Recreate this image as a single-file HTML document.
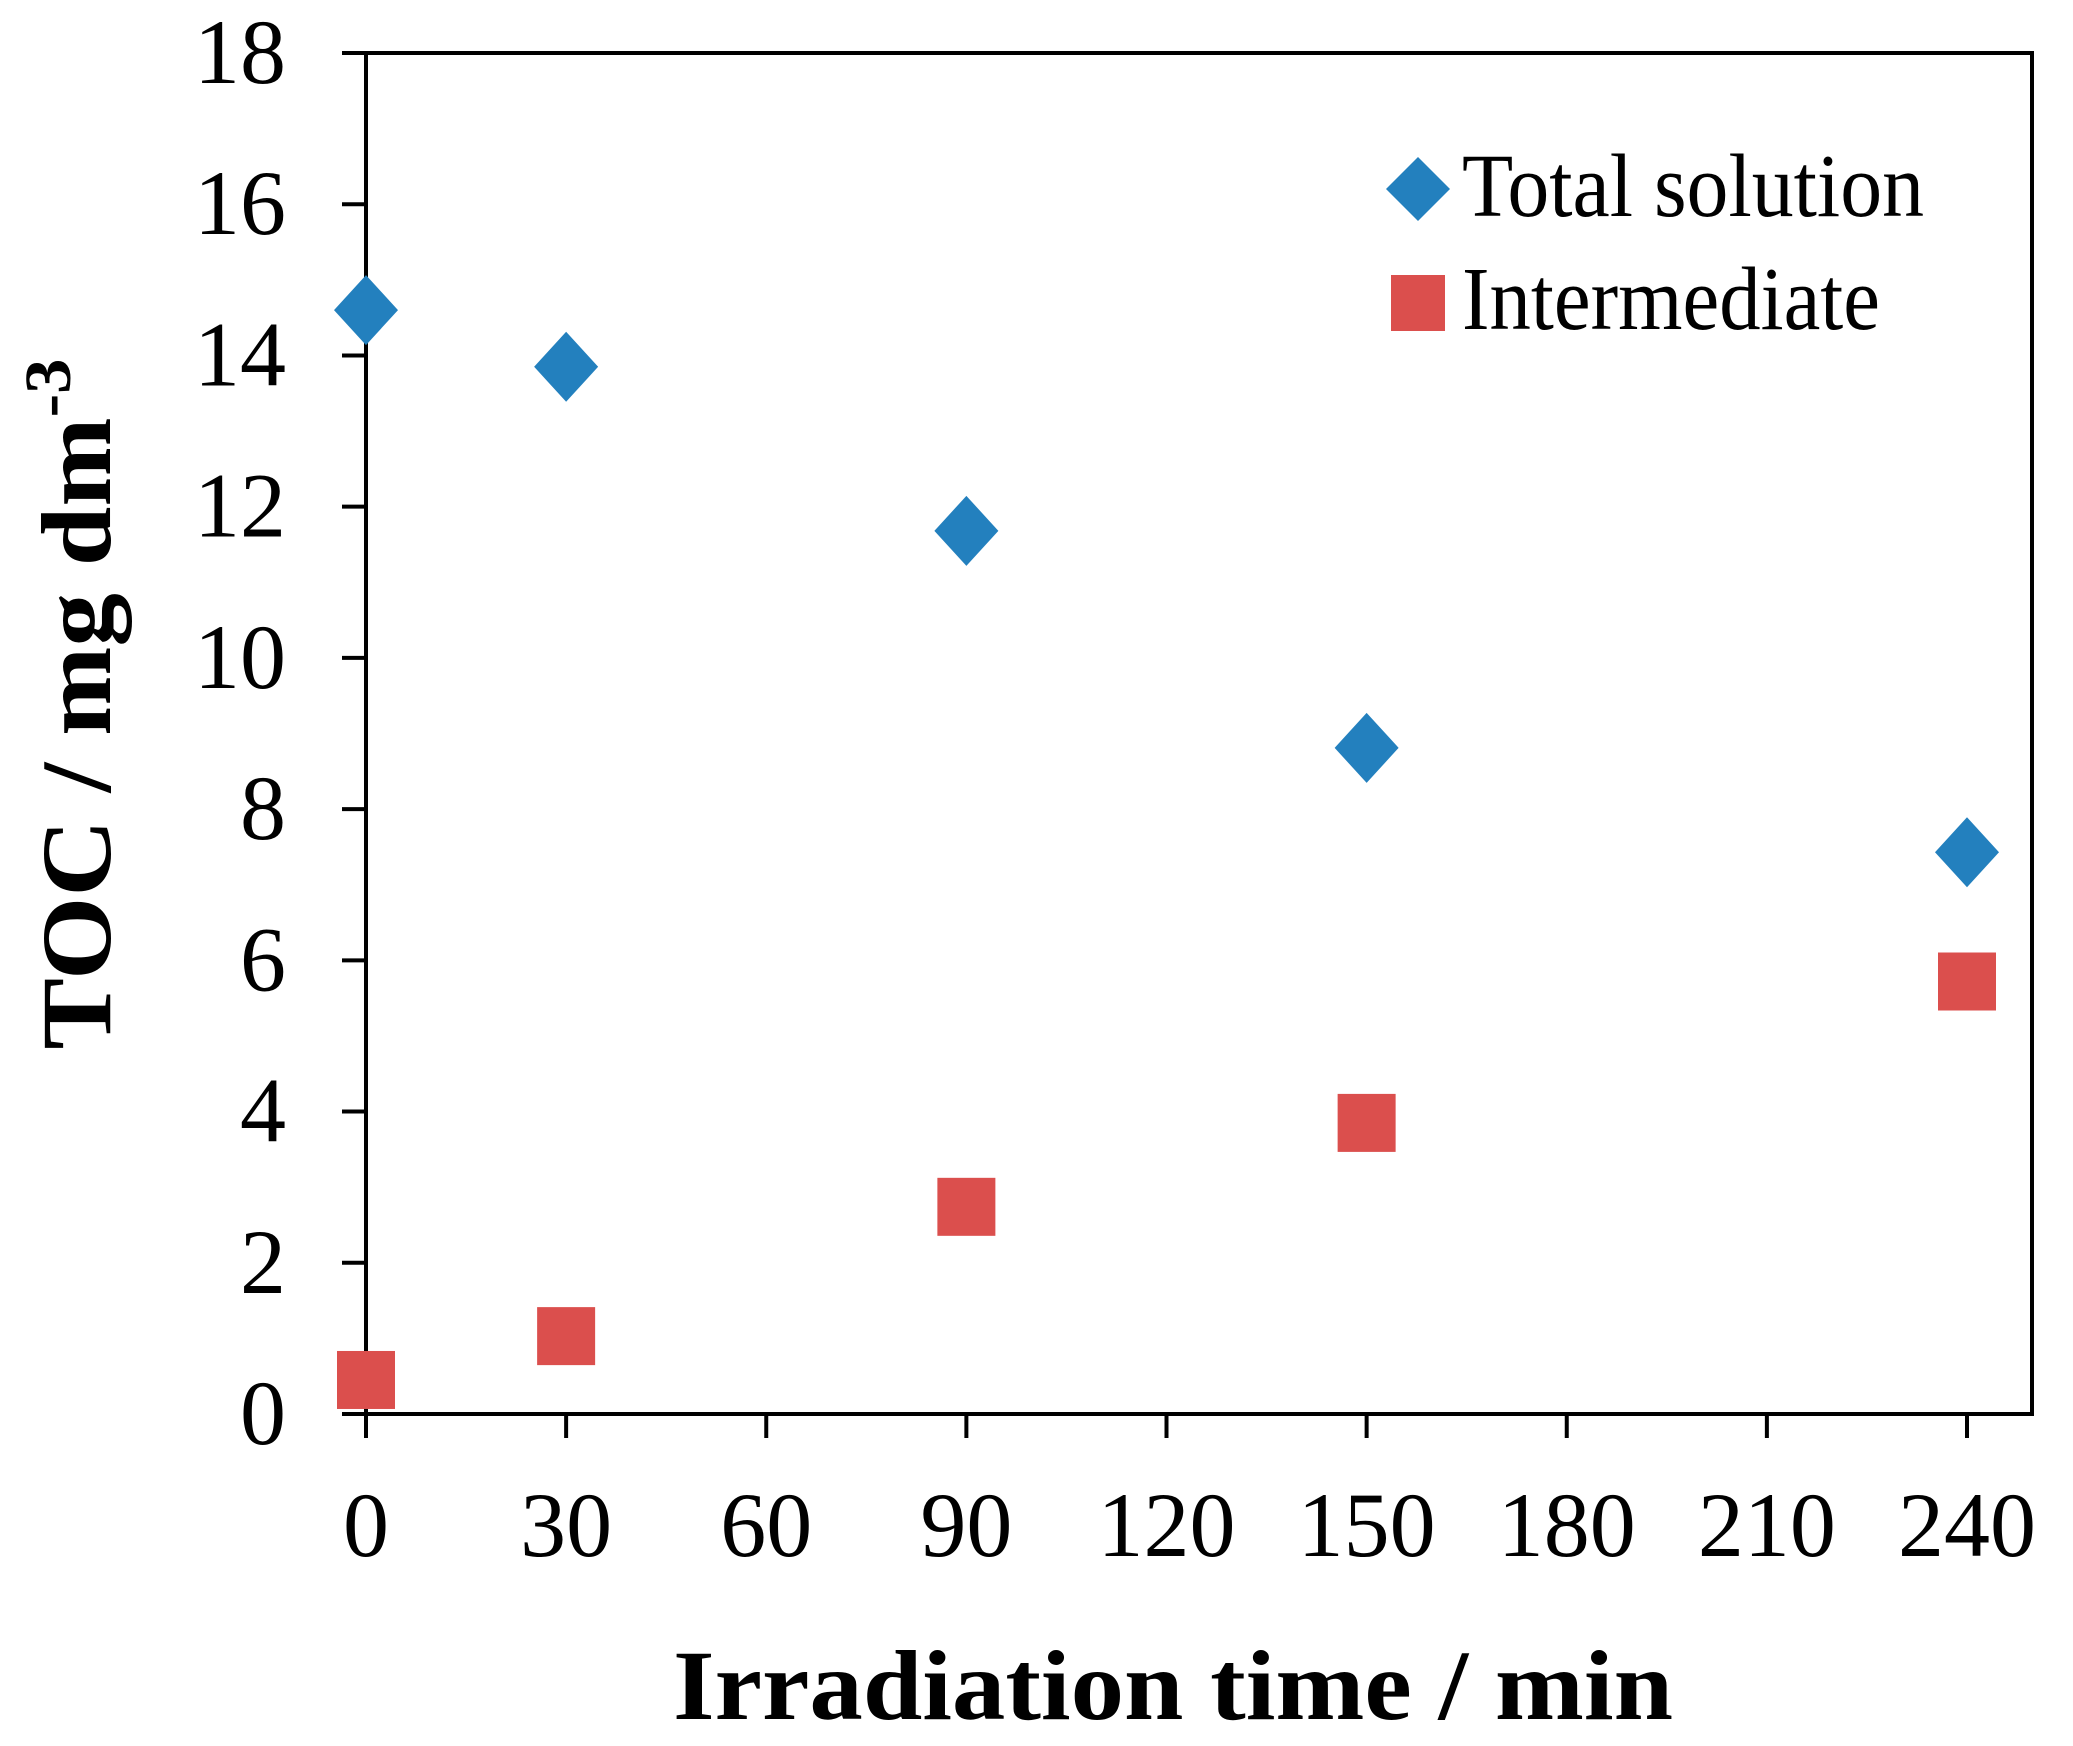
<!DOCTYPE html>
<html><head><meta charset="utf-8"><style>
html,body{margin:0;padding:0;background:#fff;}
svg{display:block;}
text{font-family:"Liberation Serif",serif;fill:#000;}
</style></head><body>
<svg id="chart" width="2073" height="1746" viewBox="0 0 2073 1746" xmlns="http://www.w3.org/2000/svg">
<g id="axes"></g>
<g id="marks"></g>
<g id="legend">
  <polygon points="1418,157 1450,189 1418,221 1386,189" fill="#2380be"/>
  <rect x="1391" y="275" width="54" height="56" fill="#db4f4d"/>
  <text x="1462" y="216" font-size="90" textLength="462" lengthAdjust="spacingAndGlyphs">Total solution</text>
  <text x="1462" y="329" font-size="90" textLength="418" lengthAdjust="spacingAndGlyphs">Intermediate</text>
</g>
<text x="1173" y="1719" text-anchor="middle" font-size="100" font-weight="bold" textLength="1000" lengthAdjust="spacingAndGlyphs">Irradiation time / min</text>
<text transform="translate(110,704) rotate(-90)" text-anchor="middle" font-size="100" font-weight="bold" textLength="691" lengthAdjust="spacingAndGlyphs">TOC / mg dm<tspan font-size="66" dy="-40">-3</tspan></text>
</svg>
<script>
const xCategories = [0, 30, 90, 150, 240];
const totalSolution = [14.6, 13.85, 11.68, 8.81, 7.43];
const intermediate = [0.45, 1.03, 2.74, 3.85, 5.72];
const xTicks = [0, 30, 60, 90, 120, 150, 180, 210, 240];
const yTicks = [0, 2, 4, 6, 8, 10, 12, 14, 16, 18];

const L = 366, R = 2032, T = 53, B = 1414;
const X0 = 366, X240 = 1967;
function sx(v){ return X0 + (X240 - X0) * v / 240; }
function sy(v){ return B - (B - T) * v / 18; }
const NS = "http://www.w3.org/2000/svg";
function mk(tag, attrs, parent){
  const e = document.createElementNS(NS, tag);
  for (const k in attrs) e.setAttribute(k, attrs[k]);
  parent.appendChild(e);
  return e;
}
const axes = document.getElementById('axes');
const frame = mk('rect', {x:L, y:T, width:R-L, height:B-T, fill:'none', stroke:'#000', 'stroke-width':4}, axes);


yTicks.forEach(v => {
  const ln = mk('line', {x1:342, x2:L, y1:sy(v), y2:sy(v), stroke:'#000', 'stroke-width':4}, axes);
  
  
  const t = mk('text', {x:286, y:sy(v)+30, 'text-anchor':'end', 'font-size':92}, axes);
  
  
  t.textContent = v;
});
xTicks.forEach(v => {
  const ln = mk('line', {x1:sx(v), x2:sx(v), y1:B, y2:1438, stroke:'#000', 'stroke-width':4}, axes);
  
  
  const t = mk('text', {x:sx(v), y:1556, 'text-anchor':'middle', 'font-size':92}, axes);
  
  
  t.textContent = v;
});
const marks = document.getElementById('marks');
xCategories.forEach((c, i) => {
  const x = sx(c), y = sy(totalSolution[i]);
  const d = mk('polygon', {points:`${x},${y-35} ${x+32},${y} ${x},${y+35} ${x-32},${y}`, fill:'#2380be'}, marks);
  
  
  const y2 = sy(intermediate[i]);
  const s = mk('rect', {x:x-29, y:y2-29, width:58, height:58, fill:'#db4f4d'}, marks);
  
  
});
</script>
</body></html>
